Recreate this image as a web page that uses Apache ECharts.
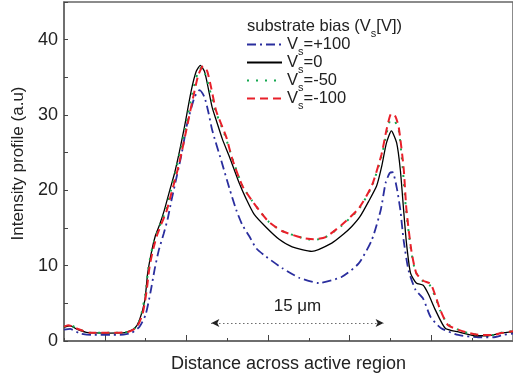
<!DOCTYPE html>
<html lang="en">
<head>
<meta charset="UTF-8" />
<title>Intensity profile</title>
<script src="https://cdn.jsdelivr.net/npm/echarts@6/dist/echarts.min.js"></script>
<style>
    * { margin: 0; padding: 0; }
    #main { width: 513px; height: 383px; background: #fff; }
</style>
</head>
<body>
<div id="main"></div>
<script>
    // x: distance (one unit = one minor tick), y: intensity (a.u)
    const vsPlus100 = [
        [0, 1.5], [0.15, 1.6], [0.39, 1.0], [0.68, 0.8], [1.37, 0.8], [1.66, 1.1], [1.85, 1.9],
        [2.0, 3.5], [2.12, 6.5], [2.22, 9.5], [2.32, 12], [2.44, 14.2], [2.54, 16.2], [2.63, 18.6],
        [2.76, 21.8], [2.88, 24.8], [3.02, 28.9], [3.2, 32.4], [3.32, 33.3], [3.44, 32.4],
        [3.54, 30.3], [3.63, 28], [3.85, 24], [4.05, 20.3], [4.22, 17.4], [4.37, 15.4],
        [4.54, 13.9], [4.71, 12.3], [4.95, 11.2], [5.34, 9.7], [5.76, 8.4], [6.24, 7.7],
        [6.8, 8.5], [7.22, 10.3], [7.54, 13.4], [7.76, 17.4], [7.88, 21], [7.98, 22.3],
        [8.05, 22.4], [8.15, 20.4], [8.24, 17.4], [8.32, 13.4], [8.44, 9.4], [8.61, 6.8],
        [8.8, 5.6], [8.98, 3.2], [9.24, 1.7], [9.66, 0.8], [10.15, 0.5], [10.51, 0.5],
        [10.76, 0.8], [11, 1.0]
    ];
    const vsZero = [
        [0, 1.8], [0.15, 2.0], [0.34, 1.5], [0.59, 1.1], [1.12, 1.05], [1.49, 1.1], [1.73, 1.7],
        [1.85, 2.8], [1.98, 5.4], [2.05, 9], [2.15, 12], [2.24, 14], [2.34, 15.4], [2.46, 17.4],
        [2.59, 20], [2.71, 22.3], [2.83, 25.2], [2.95, 28.4], [3.12, 33.3], [3.24, 35.8],
        [3.34, 36.6], [3.44, 35.8], [3.51, 34.2], [3.63, 31], [3.73, 29.3], [3.88, 26.8],
        [4.05, 24.5], [4.29, 21.0], [4.46, 18.9], [4.66, 16.8], [4.95, 15.1], [5.27, 13.5],
        [5.59, 12.5], [6.07, 11.9], [6.56, 13], [6.85, 14.2], [7.05, 15.2], [7.25, 16.5],
        [7.46, 18.5], [7.66, 20.6], [7.78, 23.1], [7.9, 26.3], [8.02, 27.9], [8.15, 26.3],
        [8.24, 22.7], [8.32, 17.4], [8.39, 13], [8.49, 9], [8.63, 7.7], [8.8, 7.4],
        [8.93, 6.2], [9.1, 4.1], [9.34, 1.7], [9.66, 1.2], [10.07, 0.7], [10.39, 0.7],
        [10.71, 1.05], [11, 1.2]
    ];
    const vsMinus50 = [
        [0, 1.9], [0.15, 2.1], [0.39, 1.5], [0.63, 1.1], [1.24, 1.1], [1.56, 1.2], [1.76, 1.8],
        [1.88, 3.2], [2.0, 6.5], [2.07, 9.8], [2.17, 12.5], [2.27, 14.2], [2.37, 15.6],
        [2.49, 17.3], [2.61, 19.8], [2.73, 22.4], [2.85, 25.2], [2.98, 28.5], [3.15, 33],
        [3.27, 35.5], [3.37, 36.3], [3.46, 35.4], [3.56, 33.6], [3.68, 31], [3.95, 27.2],
        [4.12, 24.3], [4.37, 20.6], [4.61, 18.6], [4.83, 17], [5.02, 15.8], [5.34, 14.6],
        [5.83, 13.7], [6.12, 13.4], [6.41, 13.8], [6.8, 15.3], [7.22, 17.5], [7.54, 20.5],
        [7.78, 24.5], [7.9, 27.5], [8.0, 29.3], [8.1, 29.2], [8.2, 28], [8.29, 23.5],
        [8.37, 18], [8.49, 12.5], [8.61, 9.2], [8.78, 8.0], [8.95, 7.5], [9.1, 5.8],
        [9.22, 4.0], [9.41, 2.2], [9.8, 1.2], [10.2, 0.8], [10.51, 0.8], [10.71, 1.1], [11, 1.3]
    ];
    const vsMinus100 = [
        [0, 1.9], [0.1, 2.1], [0.34, 1.6], [0.63, 1.1], [1.24, 1.1], [1.56, 1.2], [1.78, 1.8],
        [1.93, 3.7], [2.02, 6.5], [2.1, 10], [2.2, 12.5], [2.29, 14.2], [2.39, 15.6],
        [2.51, 17.2], [2.63, 19.6], [2.76, 22.2], [2.88, 25], [3.02, 28.6], [3.17, 32.5],
        [3.29, 35.3], [3.41, 36.5], [3.51, 35.8], [3.61, 33.5], [3.73, 30.5], [3.98, 27],
        [4.12, 24.2], [4.37, 20.6], [4.61, 18.6], [4.83, 17], [5.02, 15.8], [5.34, 14.6],
        [5.83, 13.7], [6.12, 13.5], [6.41, 13.8], [6.8, 15.4], [7.22, 17.6], [7.54, 20.6],
        [7.78, 24.8], [7.9, 28], [8.02, 30.2], [8.12, 29.8], [8.2, 28.4], [8.32, 23],
        [8.39, 17.4], [8.51, 12], [8.63, 9], [8.8, 8.0], [8.98, 7.6], [9.1, 6.0], [9.22, 4.1],
        [9.41, 2.1], [9.83, 1.2], [10.22, 0.8], [10.51, 0.8], [10.71, 1.05], [11, 1.3]
    ];
    const seriesNames = ["Vs=+100", "Vs=0", "Vs=-50", "Vs=-100"];
    const xTickLabels = ["0", "1", "2", "3", "4", "5", "6", "7", "8", "9", "10", "11"];
    const yTicks = [0, 10, 20, 30, 40];
    // 15 um arrow: start, end, height
    const arrowFrom = 3.61, arrowTo = 7.83, arrowY = 2.39;

    const font = "Liberation Sans";
    const axisColor = "#666";
    const sub = {
        v: { fontSize: 16.5, fontFamily: font, fontWeight: "normal", color: "#222", lineHeight: 22, verticalAlign: "middle" },
        s: { fontSize: 11, fontFamily: font, fontWeight: "normal", color: "#222", lineHeight: 26, verticalAlign: "bottom" }
    };

    var myChart = echarts.init(document.getElementById("main"));
    var option = {
        animation: false,
        title: {
            text: "{v|substrate bias (V}{s|s}{v|[V])}",
            left: 247,
            top: 13,
            padding: 0,
            textStyle: { fontWeight: "normal", rich: sub }
        },
        legend: {
            data: seriesNames,
            orient: "vertical",
            left: 246,
            top: 36,
            padding: 0,
            itemWidth: 35,
            itemHeight: 14,
            itemGap: -3.5,
            itemStyle: { opacity: 0 },
            formatter: function (name) {
                return "{v|V}{s|s}{v|" + name.slice(2) + "}";
            },
            textStyle: { rich: sub }
        },
        grid: {
            left: 64, right: -2, top: 2, bottom: 42,
            show: true, borderColor: axisColor, borderWidth: 1.5
        },
        xAxis: [
            {
                type: "value",
                min: 0, max: 11, interval: 1,
                name: "Distance across active region",
                nameLocation: "middle",
                nameGap: 14,
                nameTextStyle: { fontSize: 18, fontFamily: font, color: "#222" },
                axisLine: { lineStyle: { color: axisColor, width: 1.5 } },
                axisTick: { inside: true, length: 3, lineStyle: { color: "#444" } },
                axisLabel: { show: false },
                splitLine: { show: false }
            },
            {
                type: "category",
                data: xTickLabels,
                boundaryGap: false,
                position: "bottom",
                axisLine: { show: false },
                axisTick: {
                    inside: true, length: 6, lineStyle: { color: "#444" },
                    interval: function (i) { return i % 2 === 1; }
                },
                axisLabel: { show: false },
                splitLine: { show: false }
            }
        ],
        yAxis: {
            type: "value",
            min: 0, max: 45, interval: 5,
            name: "Intensity profile (a.u)",
            nameLocation: "middle",
            nameGap: 37,
            nameTextStyle: { fontSize: 17, fontFamily: font, color: "#222", padding: [0, 0, 0, 16] },
            axisLine: { show: true, lineStyle: { color: axisColor, width: 1.5 } },
            axisTick: { inside: true, length: 4, lineStyle: { color: "#444" } },
            axisLabel: {
                fontSize: 18, fontFamily: font, color: "#222", margin: 6,
                formatter: function (v) { return yTicks.indexOf(v) >= 0 ? String(v) : ""; }
            },
            splitLine: { show: false }
        },
        series: [
            {
                name: seriesNames[0], type: "line", data: vsPlus100, symbol: "none", smooth: 0.2,
                itemStyle: { color: "#2a2e9e" },
                lineStyle: { color: "#2a2e9e", width: 1.8, type: [9, 4, 2, 4] }
            },
            {
                name: seriesNames[1], type: "line", data: vsZero, symbol: "none", smooth: 0.2,
                itemStyle: { color: "#000" },
                lineStyle: { color: "#000", width: 1.3, type: "solid" },
                markLine: {
                    silent: true,
                    symbol: ["arrow", "arrow"],
                    symbolSize: [6, 8],
                    lineStyle: { color: "#222", width: 1, type: [1, 3] },
                    label: {
                        formatter: "15 μm", position: "middle", distance: 8,
                        fontSize: 17, fontFamily: font, color: "#222"
                    },
                    data: [[{ coord: [arrowFrom, arrowY] }, { coord: [arrowTo, arrowY] }]]
                }
            },
            {
                name: seriesNames[2], type: "line", data: vsMinus50, symbol: "none", smooth: 0.2,
                itemStyle: { color: "#15a850" },
                lineStyle: { color: "#15a850", width: 2, type: [2, 7] }
            },
            {
                name: seriesNames[3], type: "line", data: vsMinus100, symbol: "none", smooth: 0.2,
                itemStyle: { color: "#e8202a" },
                lineStyle: { color: "#e8202a", width: 2, type: [8, 5] }
            }
        ]
    };
    option && myChart.setOption(option);
</script>
</body>
</html>
